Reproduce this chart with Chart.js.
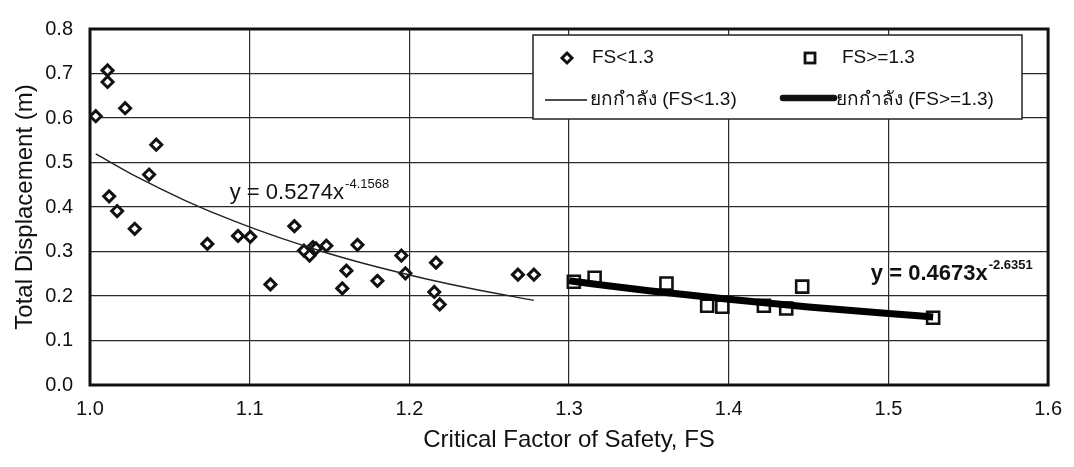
<!DOCTYPE html>
<html>
<head>
<meta charset="utf-8">
<script src="https://cdn.jsdelivr.net/npm/chart.js@4.4.0/dist/chart.umd.min.js"></script>
<style>
  html, body { margin: 0; padding: 0; background: #fff; }
  #wrap { width: 1074px; height: 467px; }
</style>
</head>
<body>
<div id="wrap"><canvas id="fs_chart" width="1074" height="467"></canvas></div>
<script>
// points
var FS_LOW_X = [1.0036, 1.011, 1.011, 1.022, 1.0415, 1.037, 1.012, 1.017, 1.028, 1.0735, 1.0927, 1.1004, 1.113, 1.128, 1.134, 1.1375, 1.1396, 1.1415, 1.148, 1.1606, 1.158, 1.1675, 1.180, 1.195, 1.1975, 1.2167, 1.2156, 1.219, 1.268, 1.278];
var FS_LOW_Y = [0.604, 0.707, 0.681, 0.622, 0.540, 0.473, 0.424, 0.391, 0.351, 0.317, 0.335, 0.333, 0.226, 0.357, 0.302, 0.291, 0.310, 0.307, 0.313, 0.257, 0.217, 0.315, 0.234, 0.291, 0.251, 0.275, 0.209, 0.181, 0.248, 0.248];

var FS_HIGH_X = [1.303, 1.316, 1.361, 1.3865, 1.396, 1.422, 1.436, 1.446, 1.528];
var FS_HIGH_Y = [0.232, 0.241, 0.228, 0.178, 0.176, 0.178, 0.172, 0.221, 0.151];

// power trendlines
var TREND_LOW_X = [1.0036, 1.03, 1.06, 1.09, 1.12, 1.15, 1.18, 1.21, 1.24, 1.278];
var TREND_LOW_Y = [0.5196, 0.4664, 0.4140, 0.3686, 0.3293, 0.2950, 0.2651, 0.2388, 0.2157, 0.1902];
var TREND_HIGH_X = [1.30, 1.35, 1.40, 1.45, 1.50, 1.528];
var TREND_HIGH_Y = [0.2341, 0.2119, 0.1926, 0.1755, 0.1605, 0.1529];

var LEGEND_LABELS = ["FS<1.3", "FS>=1.3", "ยกกำลัง (FS<1.3)", "ยกกำลัง (FS>=1.3)"];
var EQ_LOW = ["y = 0.5274x", "-4.1568"];
var EQ_HIGH = ["y = 0.4673x", "-2.6351"];
var EQ_LOW_AT = [1.0875, 0.417];
var EQ_HIGH_AT = [1.489, 0.235];

var X_MIN = 1.0, X_MAX = 1.6, Y_MIN = 0.0, Y_MAX = 0.8;

const FONT = "'Liberation Sans', Arial, sans-serif";

function toPoints(xs, ys) {
  return xs.map((x, i) => ({x: x, y: ys[i]}));
}

// plot frame (thick) drawn under the data
const framePlugin = {
  id: "frame",
  beforeDatasetsDraw(chart) {
    const a = chart.chartArea;
    const ctx = chart.ctx;
    ctx.save();
    ctx.strokeStyle = "#111";
    ctx.lineWidth = 3;
    ctx.strokeRect(a.left, a.top, a.right - a.left, a.bottom - a.top);
    ctx.restore();
  }
};

function drawEquation(ctx, chart, parts, at, bold) {
  const xs = chart.scales.x, ys = chart.scales.y;
  const px = xs.getPixelForValue(at[0]);
  const py = ys.getPixelForValue(at[1]);
  const w = bold ? "bold " : "";
  ctx.font = w + "22px " + FONT;
  ctx.fillStyle = "#111";
  ctx.textBaseline = "alphabetic";
  ctx.textAlign = "left";
  ctx.fillText(parts[0], px, py);
  const mainW = ctx.measureText(parts[0]).width;
  ctx.font = w + "13px " + FONT;
  ctx.fillText(parts[1], px + mainW + 1, py - 11);
}

// equations + the 2x2 legend box
const overlayPlugin = {
  id: "overlay",
  afterDraw(chart) {
    const ctx = chart.ctx;
    ctx.save();
    drawEquation(ctx, chart, EQ_LOW, EQ_LOW_AT, false);
    drawEquation(ctx, chart, EQ_HIGH, EQ_HIGH_AT, true);

    // legend
    const lx = 533, ly = 35, lw = 489, lh = 84;
    ctx.fillStyle = "#fff";
    ctx.fillRect(lx, ly, lw, lh);
    ctx.strokeStyle = "#222";
    ctx.lineWidth = 1.5;
    ctx.strokeRect(lx, ly, lw, lh);

    ctx.font = "19px " + FONT;
    ctx.fillStyle = "#111";
    ctx.textAlign = "left";
    ctx.textBaseline = "middle";

    // diamond
    ctx.beginPath();
    ctx.moveTo(567, 53); ctx.lineTo(572, 58); ctx.lineTo(567, 63); ctx.lineTo(562, 58); ctx.closePath();
    ctx.fillStyle = "#fff"; ctx.fill();
    ctx.lineWidth = 3; ctx.strokeStyle = "#111"; ctx.stroke();
    ctx.fillStyle = "#111";
    ctx.fillText(LEGEND_LABELS[0], 592, 58);

    // square
    ctx.lineWidth = 2.8;
    ctx.strokeRect(805, 53, 10, 10);
    ctx.fillText(LEGEND_LABELS[1], 842, 58);

    // thin line
    ctx.beginPath();
    ctx.moveTo(545, 100); ctx.lineTo(587, 100);
    ctx.lineWidth = 1.3; ctx.stroke();
    ctx.fillText(LEGEND_LABELS[2], 590, 100);

    // thick line
    ctx.beginPath();
    ctx.moveTo(783, 98); ctx.lineTo(834, 98);
    ctx.lineWidth = 6.5; ctx.lineCap = "round"; ctx.stroke();
    ctx.lineCap = "butt";
    ctx.fillText(LEGEND_LABELS[3], 836, 100);
    ctx.restore();
  }
};

function buildChart() {
  const ctx = document.getElementById("fs_chart");

  const datasets = [
    {
      label: "trend_low",
      data: toPoints(TREND_LOW_X, TREND_LOW_Y),
      showLine: true,
      borderColor: "#222",
      borderWidth: 1.4,
      pointRadius: 0,
      cubicInterpolationMode: "monotone",
      order: 1
    },
    {
      label: "trend_high",
      data: toPoints(TREND_HIGH_X, TREND_HIGH_Y),
      showLine: true,
      borderColor: "#000",
      borderWidth: 7,
      pointRadius: 0,
      cubicInterpolationMode: "monotone",
      order: 2
    },
    {
      label: "FS<1.3",
      data: toPoints(FS_LOW_X, FS_LOW_Y),
      pointStyle: "rectRot",
      pointRadius: 5.5,
      pointBorderWidth: 3,
      borderColor: "#111",
      backgroundColor: "#fff",
      order: 3
    },
    {
      label: "FS>=1.3",
      data: toPoints(FS_HIGH_X, FS_HIGH_Y),
      pointStyle: "rect",
      pointRadius: 8.5,
      pointBorderWidth: 2.6,
      borderColor: "#111",
      backgroundColor: "#fff",
      order: 4
    }
  ];

  return new Chart(ctx, {
    type: "scatter",
    data: {datasets: datasets},
    options: {
      responsive: false,
      animation: false,
      devicePixelRatio: 1,
      layout: {padding: {top: 16, right: 24, left: 0, bottom: 0}},
      plugins: {legend: {display: false}, tooltip: {enabled: false}},
      scales: {
        x: {
          type: "linear",
          min: X_MIN, max: X_MAX,
          afterFit: (s) => { s.height = 82; },
          grid: {color: "#2a2a2a", lineWidth: 1.2, drawTicks: false},
          border: {display: false},
          ticks: {
            stepSize: 0.1, padding: 12, color: "#111",
            font: {family: FONT, size: 20},
            callback: (v) => Number(v).toFixed(1)
          },
          title: {
            display: true, text: "Critical Factor of Safety, FS", color: "#111",
            font: {family: FONT, size: 24}, padding: {top: 0, bottom: 12}
          }
        },
        y: {
          type: "linear",
          min: Y_MIN, max: Y_MAX,
          afterFit: (s) => { s.width = 90; },
          grid: {color: "#2a2a2a", lineWidth: 1.2, drawTicks: false},
          border: {display: false},
          ticks: {
            stepSize: 0.1, padding: 17, color: "#111",
            font: {family: FONT, size: 20},
            callback: (v) => Number(v).toFixed(1)
          },
          title: {
            display: true, text: "Total Displacement (m)", color: "#111",
            font: {family: FONT, size: 24}, padding: {top: 11, bottom: 0}
          }
        }
      }
    },
    plugins: [framePlugin, overlayPlugin]
  });
}

buildChart();
</script>
</body>
</html>
